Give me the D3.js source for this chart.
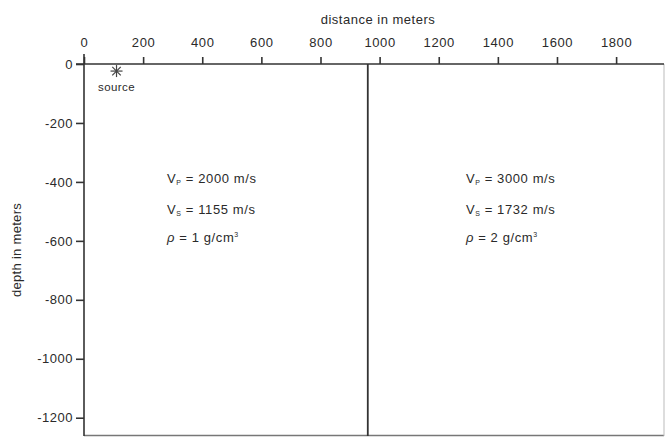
<!DOCTYPE html>
<html><head><meta charset="utf-8">
<script src="https://cdn.jsdelivr.net/npm/d3@7"></script>
<style>
html,body{margin:0;padding:0;background:#fff;}
text{font-family:"Liberation Sans",Arial,Helvetica,sans-serif;fill:#2a2a2a;}
</style></head>
<body>
<svg id="c" width="666" height="437"></svg>
<script>
// ---- data ----
const xTicks = [0,200,400,600,800,1000,1200,1400,1600,1800];
const yTicks = [0,-200,-400,-600,-800,-1000,-1200];
const yTickLabels = ["0","-200","-400","-600","-800","-1000","-1200"];
const layerVp = [2000, 3000];
const layerVs = [1155, 1732];
const layerRho = [1, 2];
const layerLabelX = [281, 1292];     // distance (m) where each layer's text starts
const labelDepths = [-390, -495, -590];
const interfaceX = 960;              // vertical boundary (m)
const sourcePos = [110, -24];        // [distance, depth]
const xDomain = [0, 1962];
const yDomain = [0, -1262];

const svg = d3.select("#c");
const m = {l:84, t:64, r:2, b:1};
const W = 666, H = 437;
const x = d3.scaleLinear().domain(xDomain).range([m.l, W - m.r]);
const y = d3.scaleLinear().domain(yDomain).range([m.t, H - m.b]);
const stroke = "#333";
const FONT = "Liberation Sans, Arial, sans-serif";

// frame (bottom/right)
svg.append("line").attr("x1", x(xDomain[0])).attr("x2", x(xDomain[1]))
  .attr("y1", y(yDomain[1])-0.5).attr("y2", y(yDomain[1])-0.5)
  .attr("stroke", "#777").attr("stroke-width", 1.5);
svg.append("line").attr("x1", x(xDomain[1])).attr("x2", x(xDomain[1]))
  .attr("y1", y(0)).attr("y2", y(yDomain[1]))
  .attr("stroke", "#bbb").attr("stroke-width", 1);

// top axis
const xAxis = d3.axisTop(x).tickValues(xTicks).tickSize(7).tickSizeOuter(0).tickPadding(10)
  .tickFormat(d3.format("d"));
const gx = svg.append("g").attr("transform", `translate(0,${y(0)})`).call(xAxis);
gx.select(".domain").attr("stroke", stroke).attr("stroke-width", 1.6)
  .attr("d", `M${x(0)-8},0H${x(xDomain[1])}`);
gx.selectAll(".tick line").attr("stroke", stroke).attr("stroke-width", 1.6);
gx.selectAll(".tick text").attr("font-size", 13).attr("fill", "#2a2a2a")
  .attr("font-family", FONT).attr("letter-spacing", 0.6);

// left axis
const yAxis = d3.axisLeft(y).tickValues(yTicks).tickSize(8).tickSizeOuter(0).tickPadding(3)
  .tickFormat((d,i) => yTickLabels[i]);
const gy = svg.append("g").attr("transform", `translate(${x(0)},0)`).call(yAxis);
gy.select(".domain").attr("stroke", stroke).attr("stroke-width", 1.6)
  .attr("d", `M0,${y(0)-10}V${y(yDomain[1])}`);
gy.selectAll(".tick line").attr("stroke", stroke).attr("stroke-width", 1.6);
gy.selectAll(".tick text").attr("font-size", 13).attr("fill", "#2a2a2a")
  .attr("font-family", FONT).attr("letter-spacing", 0.5);

// axis titles
svg.append("text").attr("x", 378).attr("y", 24).attr("text-anchor", "middle")
  .attr("font-size", 13).attr("letter-spacing", 0.5).text("distance in meters");
const midY = (y(0) + y(yDomain[1])) / 2;
svg.append("text").attr("transform", `translate(21,${midY}) rotate(-90)`)
  .attr("text-anchor", "middle").attr("font-size", 13).attr("letter-spacing", 0.3).text("depth in meters");

// interface line
svg.append("line").attr("x1", x(interfaceX)).attr("x2", x(interfaceX))
  .attr("y1", y(0)).attr("y2", y(yDomain[1]))
  .attr("stroke", stroke).attr("stroke-width", 1.8);

// source (8-armed asterisk)
const sx = x(sourcePos[0]), sy = y(sourcePos[1]);
d3.range(4).forEach(k => {
  const a = k * Math.PI / 4, r = 6;
  svg.append("line")
    .attr("x1", sx - r*Math.cos(a)).attr("y1", sy - r*Math.sin(a))
    .attr("x2", sx + r*Math.cos(a)).attr("y2", sy + r*Math.sin(a))
    .attr("stroke", "#444").attr("stroke-width", 1.2);
});
svg.append("text").attr("x", sx).attr("y", sy + 20)
  .attr("text-anchor", "middle").attr("font-size", 11.5).attr("letter-spacing", 0.4).text("source");

// layer annotations
layerVp.forEach((vp, i) => {
  const g = svg.append("g").attr("font-size", 13).attr("letter-spacing", 0.6);
  const lx = x(layerLabelX[i]);
  let t = g.append("text").attr("x", lx).attr("y", y(labelDepths[0]) + 4);
  t.append("tspan").text("V");
  t.append("tspan").attr("font-size", 7).attr("dy", 2).text("P");
  t.append("tspan").attr("dy", -2).text(" = " + vp + " m/s");
  t = g.append("text").attr("x", lx).attr("y", y(labelDepths[1]) + 4);
  t.append("tspan").text("V");
  t.append("tspan").attr("font-size", 7).attr("dy", 2).text("S");
  t.append("tspan").attr("dy", -2).text(" = " + layerVs[i] + " m/s");
  t = g.append("text").attr("x", lx).attr("y", y(labelDepths[2]) + 4);
  t.append("tspan").attr("font-style", "italic").text("ρ");
  t.append("tspan").text(" = " + layerRho[i] + " g/cm");
  t.append("tspan").attr("font-size", 7).attr("dy", -5).text("3");
});
</script>
</body></html>
